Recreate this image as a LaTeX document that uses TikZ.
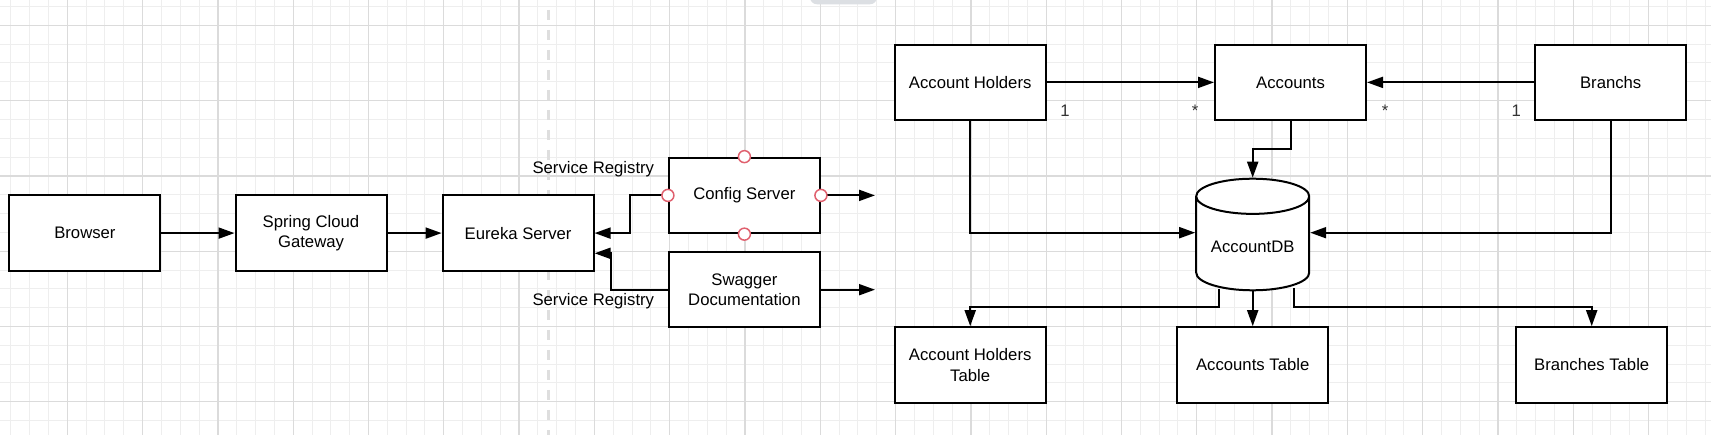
\documentclass[tikz,border=0pt]{standalone}
\usepackage{fontspec}
\setmainfont{Liberation Sans}
\usepackage{xcolor}
\usepackage{tikz}
\usetikzlibrary{arrows.meta,positioning,calc,shapes.geometric}
\definecolor{lucidminor}{HTML}{EEEEEE}
\definecolor{lucidmajor}{HTML}{DBDBDB}
\definecolor{luciddash}{HTML}{DEDEDE}
\definecolor{lucidtab}{HTML}{DCDFE3}
\definecolor{lucidport}{HTML}{E0606E}
\definecolor{lucidlabel}{HTML}{333333}

\begin{document}
\begin{tikzpicture}[
  x=1pt,y=-1pt,
  font=\fontsize{16.7}{20.7}\selectfont,
  box/.style={draw=black,fill=white,line width=2pt,minimum width=151pt,minimum height=75.5pt,align=center,inner sep=2pt},
  db/.style={cylinder,shape border rotate=90,aspect=0.39,draw=black,fill=white,line width=2pt,minimum width=113pt,minimum height=111.6pt,anchor=shape center},
  arr/.style={-{Triangle[length=16pt,width=11pt]},draw=black,line width=2pt},
  mult/.style={text=lucidlabel,inner sep=0pt,text height=12pt,text depth=0pt},
  port/.style={draw=lucidport,fill=white,line width=1.5pt},
  minorline/.style={draw=lucidminor,line width=1pt},
  majorline/.style={draw=lucidmajor,line width=1.3pt},
  sepline/.style={draw=luciddash,line width=3.5pt,dash pattern=on 10pt off 10pt}
]
\useasboundingbox (0,0) rectangle (1711,435);
\fill[white] (0,0) rectangle (1711,435);

% grid
\foreach \k in {0,...,90} \draw[minorline] ({10.8+18.825*\k},0) -- ++(0,435);
\foreach \k in {0,...,22} \draw[minorline] (0,{6.5+18.825*\k}) -- ++(1711,0);
\foreach \k in {0,...,21} \draw[majorline] ({67.3+75.3*\k},0) -- ++(0,435);
\foreach \k in {0,...,5} \draw[majorline] (0,{25.3+75.3*\k}) -- ++(1711,0);
\draw[sepline] (548.5,10) -- (548.5,435);
\fill[lucidtab,rounded corners=7pt] (810,-14) rectangle (877,4.3);

% services
\node[box] (br) at (84.9,233.1) {Browser};
\node[box] (gw) at (311,233.1) {Spring Cloud\\Gateway};
\node[box] (eu) at (518.1,233.1) {Eureka Server};
\node[box] (cfg) at (744.4,195.4) {Config Server};
\node[box] (sw) at (744.4,289.7) {Swagger\\Documentation};
\node (sr1) at (593.3,169) {Service Registry};
\node (sr2) at (593.3,301) {Service Registry};
\coordinate (cfgout) at (875,195.4);
\coordinate (swout) at (875,289.7);

% account model
\node[box] (ah) at (970.2,82.4) {Account Holders};
\node[box] (acc) at (1290.5,82.4) {Accounts};
\node[box] (brn) at (1610.7,82.4) {Branchs};
\node[db] (db) at (1252.7,234.5) {AccountDB};
\node[box] (aht) at (970.2,364.9) {Account Holders\\Table};
\node[box] (act) at (1252.7,364.9) {Accounts Table};
\node[box] (bt) at (1591.7,364.9) {Branches Table};

\draw[arr] (br) -- (gw);
\draw[arr] (gw) -- (eu);
\draw[arr] (cfg.west) -- ++(-38,0) |- (eu.east);
\draw[arr] (sw.west) -- ++(-57.3,0) |- ($(eu.east)+(0,20.2)$);
\draw[arr] (cfg.east) -- (cfgout);
\draw[arr] (sw.east) -- (swout);
\foreach \a in {north,south,east,west} \draw[port] (cfg.\a) circle[radius=6pt];

\draw[arr] (ah) -- (acc) node[mult,pos=0.11,below=21pt] {1} node[mult,pos=0.887,below=21pt] {*};
\draw[arr] (brn) -- (acc) node[mult,pos=0.108,below=21pt] {1} node[mult,pos=0.892,below=21pt] {*};
\draw[arr] (acc.south) -- ++(0,28) -| (db.north);
\draw[arr] (ah) |- ($(db.shape center)+(-57.5,-1.8)$);
\draw[arr] (brn) |- ($(db.shape center)+(57.5,-1.8)$);
\draw[arr] ($(db.south)+(-33.7,-2)$) -- ++(0,18) -| (aht.north);
\draw[arr] (db.south) -- (act.north);
\draw[arr] ($(db.south)+(41.3,-3.5)$) -- ++(0,19.5) -| (bt.north);
\end{tikzpicture}
\end{document}
